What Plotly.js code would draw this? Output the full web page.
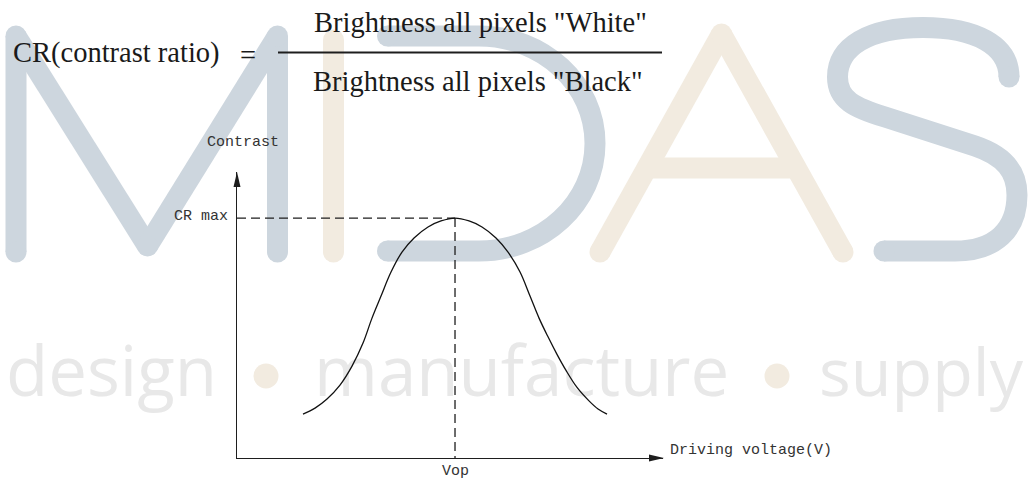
<!DOCTYPE html>
<html><head><meta charset="utf-8">
<script src="https://cdn.plot.ly/plotly-3.0.1.min.js"></script>
<style>html,body{margin:0;padding:0;background:#fff;} #chart{width:1028px;height:481px;}</style>
</head><body><div id="chart"></div>
<script>
// ---- chart data (driving voltage in V, contrast relative to CR max) ----
const voltage  = [1.514, 1.789, 2.064, 2.362, 2.638, 2.890, 3.096, 3.303, 3.532, 3.784, 4.060, 4.381, 4.679, 5.000,
                  5.321, 5.619, 5.940, 6.216, 6.491, 6.720, 6.927, 7.133, 7.339, 7.546, 7.798, 8.073, 8.280, 8.486];
const contrast = [0.183, 0.208, 0.246, 0.304, 0.383, 0.479, 0.583, 0.675, 0.775, 0.858, 0.917, 0.963, 0.988, 1.000,
                  0.988, 0.963, 0.917, 0.858, 0.775, 0.675, 0.583, 0.505, 0.432, 0.365, 0.294, 0.238, 0.204, 0.183];
const vop = 5.0;
const crMax = 1.0;
const xMax = 9.77;
const yMax = 1.192;

// ---- texts ----
const yAxisLabel = "Contrast";
const xAxisLabel = "Driving voltage(V)";
const vopLabel = "Vop";
const crMaxLabel = "CR max";
const formulaLeft = "CR(contrast ratio)";
const formulaEq = "=";
const numerator = 'Brightness all pixels "White"';
const denominator = 'Brightness all pixels "Black"';
const watermarkWords = ["design", "manufacture", "supply"];

// ---- figure geometry (pixels) ----
const W = 1028, H = 481;
const axL = 237, axR = 663, axT = 172, axB = 458;

const BLUE = "#cdd6de", BEIGE = "#f2ebe0", WGRAY = "#e8e8e8", INK = "#1e1e1e";
const SW = 21; // watermark stroke width

const shapes = [];
function stroke(p, color) {
  shapes.push({type: "path", xref: "x", yref: "y", path: p, layer: "below",
               line: {color: color, width: SW}, fillcolor: "rgba(0,0,0,0)"});
}
function cap(x, y, color, r) {
  r = r || SW / 2;
  shapes.push({type: "circle", xref: "x", yref: "y", x0: x - r, x1: x + r, y0: y - r, y1: y + r,
               layer: "below", line: {width: 0}, fillcolor: color});
}
// M
stroke("M 16 252 L 16 36", BLUE);
stroke("M 16 36 L 147.5 246", BLUE);
stroke("M 147.5 246 L 277.5 36", BLUE);
stroke("M 277.5 36 L 277.5 252", BLUE);
[[16,252],[16,36],[147.5,246],[277.5,36],[277.5,252]].forEach(p => cap(p[0], p[1], BLUE));
// I (beige)
stroke("M 333.5 40 L 333.5 252", BEIGE);
cap(333.5, 40, BEIGE); cap(333.5, 252, BEIGE);
// D
const dcx = 479, dcy = 143.5, drx = 116, dry = 107.5, k = 0.5523;
stroke(`M 387.5 36 L ${dcx} 36 C ${dcx + k*drx} 36 ${dcx + drx} ${dcy - k*dry} ${dcx + drx} ${dcy} ` +
       `C ${dcx + drx} ${dcy + k*dry} ${dcx + k*drx} 251 ${dcx} 251 L 387.5 251`, BLUE);
cap(387.5, 36, BLUE); cap(387.5, 251, BLUE);
// A (beige)
stroke("M 600 252 L 721.5 34", BEIGE);
stroke("M 721.5 34 L 843 252", BEIGE);
stroke("M 646 168 L 797 168", BEIGE);
cap(600, 252, BEIGE); cap(721.5, 34, BEIGE); cap(843, 252, BEIGE);
// S
stroke("M 1009 77 C 1009 45 975 27.5 923 27.5 C 868 27.5 837.5 47 837.5 77 C 837.5 100 855 108 885 117 " +
       "L 975 146 C 1005 156 1017 172 1017 195 C 1017 230 995 251 955 251 L 884 251", BLUE);
cap(1009, 77, BLUE); cap(884, 251, BLUE);

// fraction bar
shapes.push({type: "line", xref: "x", yref: "y", x0: 278, x1: 662, y0: 52.5, y1: 52.5,
             line: {color: INK, width: 1.8}});
// axis arrowheads
shapes.push({type: "path", xref: "x", yref: "y", path: `M ${axL} ${axT} L ${axL + 3.5} ${axT + 15} L ${axL - 3.5} ${axT + 15} Z`,
             line: {width: 0}, fillcolor: INK});
shapes.push({type: "path", xref: "x", yref: "y", path: `M ${axR + 1} ${axB} L ${axR - 14} ${axB - 3.5} L ${axR - 14} ${axB + 3.5} Z`,
             line: {width: 0}, fillcolor: INK});

const traces = [
  // watermark words (full-figure pixel axes)
  {type: "scatter", mode: "text", x: [6, 314, 819], y: [379, 379, 379], text: watermarkWords,
   textposition: "middle right", cliponaxis: false, hoverinfo: "skip", showlegend: false,
   textfont: {family: "Open Sans", size: [69, 69, 66.5], color: WGRAY, weight: 400}, xaxis: "x", yaxis: "y"},
  {type: "scatter", mode: "markers", x: [266, 777], y: [376, 376], hoverinfo: "skip", showlegend: false,
   marker: {size: 25, color: BEIGE}, cliponaxis: false, xaxis: "x", yaxis: "y"},
  // chart
  {type: "scatter", mode: "lines", x: [0, vop], y: [crMax, crMax], xaxis: "x2", yaxis: "y2",
   line: {color: INK, width: 1.3, dash: "9px,5px"}, showlegend: false, hoverinfo: "skip", cliponaxis: false},
  {type: "scatter", mode: "lines", x: [vop, vop], y: [crMax, 0], xaxis: "x2", yaxis: "y2",
   line: {color: INK, width: 1.3, dash: "9px,5px"}, showlegend: false, hoverinfo: "skip", cliponaxis: false},
  {type: "scatter", mode: "lines", x: voltage, y: contrast, xaxis: "x2", yaxis: "y2",
   line: {color: "#111", width: 1.3, shape: "spline", smoothing: 1}, showlegend: false, cliponaxis: false}
];

const serif = {family: "Liberation Serif", size: 28.5, color: "#1a1a1a"};
const mono = {family: "Liberation Mono", size: 15, color: "#333"};
function ann(text, x, y, font, xanchor) {
  return {text: text, x: x, y: y, xref: "x", yref: "y", showarrow: false, font: font,
          xanchor: xanchor || "center", yanchor: "middle"};
}
const annotations = [
  ann(formulaLeft, 11, 53, serif, "left"),
  ann(formulaEq, 248, 55, serif),
  ann(numerator, 480, 22, serif),
  ann(denominator, 478, 81, serif),
  ann(yAxisLabel, 243, 142, mono),
  ann(crMaxLabel, 230, 216, mono, "right"),
  ann(xAxisLabel, 668, 450, mono, "left"),
  ann(vopLabel, 455, 471, mono)
];

const layout = {
  width: W, height: H,
  margin: {l: 0, r: 0, t: 0, b: 0},
  paper_bgcolor: "#ffffff", plot_bgcolor: "rgba(0,0,0,0)",
  showlegend: false,
  xaxis: {domain: [0, 1], range: [0, W], visible: false, fixedrange: true},
  yaxis: {domain: [0, 1], range: [H, 0], visible: false, fixedrange: true},
  xaxis2: {domain: [axL / W, axR / W], range: [0, xMax], anchor: "y2", showline: true, linecolor: INK, linewidth: 1.3,
           showgrid: false, zeroline: false, showticklabels: false, ticks: "", fixedrange: true},
  yaxis2: {domain: [(H - axB) / H, (H - axT) / H], range: [0, yMax], anchor: "x2", showline: true, linecolor: INK, linewidth: 1.3,
           showgrid: false, zeroline: false, showticklabels: false, ticks: "", fixedrange: true},
  shapes: shapes,
  annotations: annotations
};
Plotly.newPlot("chart", traces, layout, {staticPlot: true, displayModeBar: false});
</script></body></html>
